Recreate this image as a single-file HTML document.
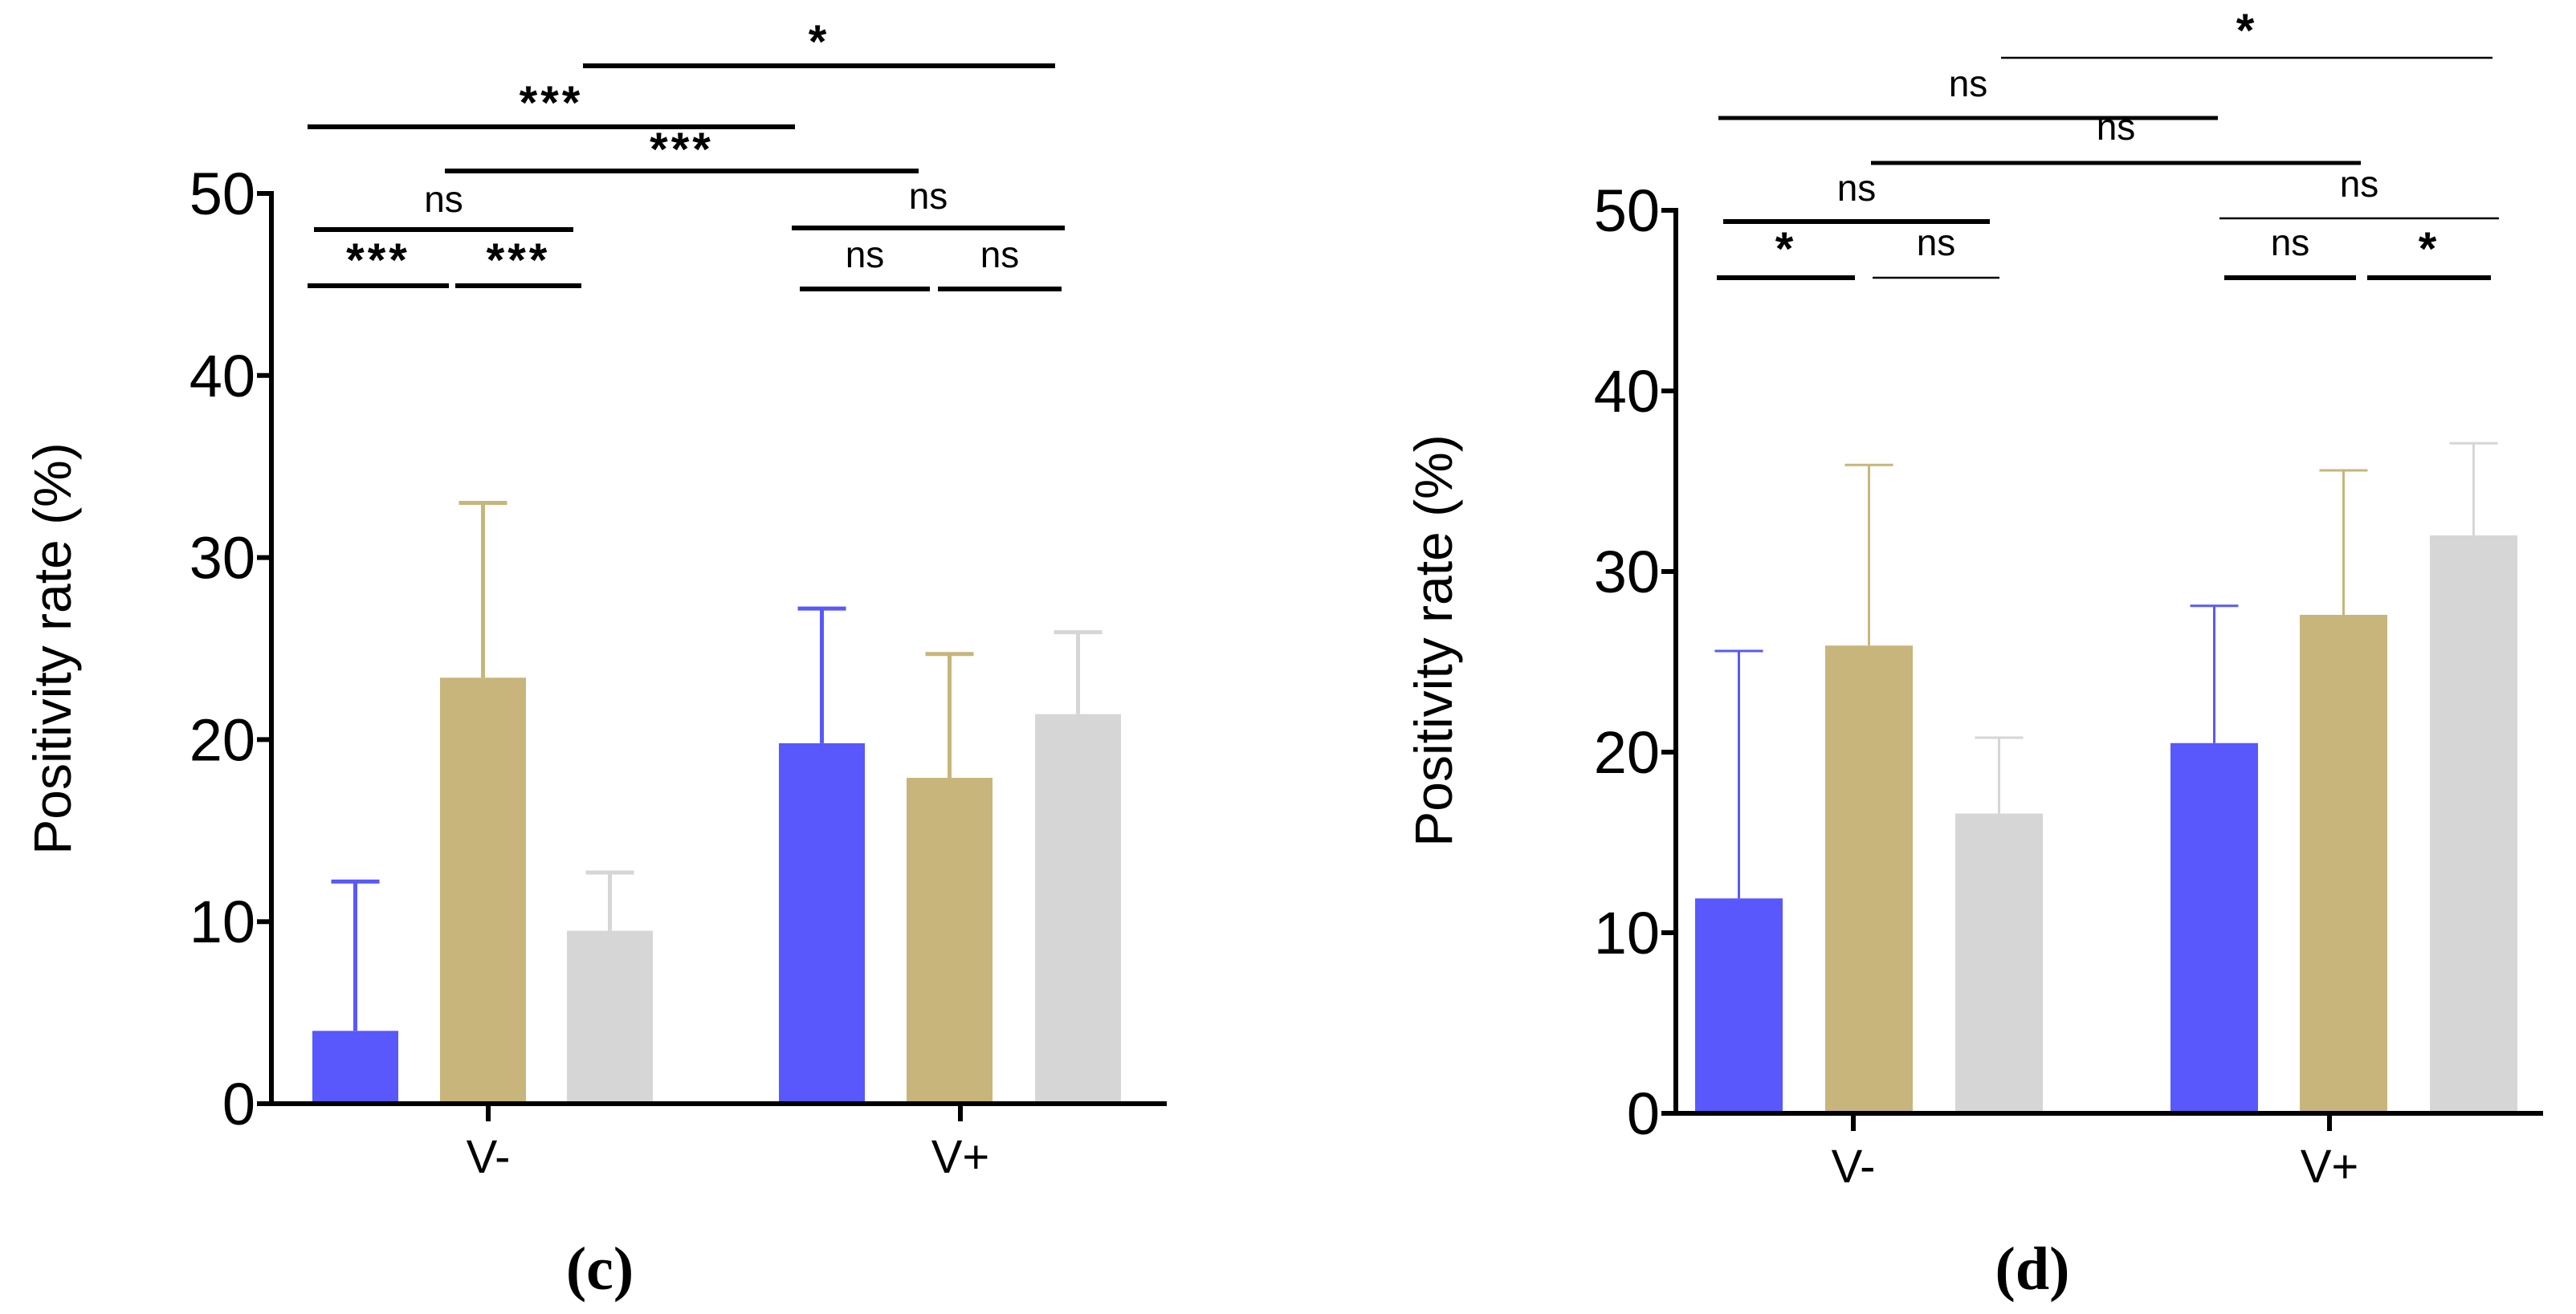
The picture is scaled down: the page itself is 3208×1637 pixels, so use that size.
<!DOCTYPE html>
<html><head><meta charset="utf-8"><style>
html,body{margin:0;padding:0;background:#fff;}
svg{display:block;}
text{font-family:"Liberation Sans",sans-serif;}
</style></head><body>
<svg id="fig" width="3208" height="1637" viewBox="0 0 3208 1637" xmlns="http://www.w3.org/2000/svg"></svg>
<script>
// Panel (c) data
const groupsC = ["V-","V+"];
const meansC = [[4.0,23.4,9.5],[19.8,17.9,21.4]];
const errTopC = [[12.2,33.0,12.7],[27.2,24.7,25.9]];
// Panel (d) data
const groupsD = ["V-","V+"];
const meansD = [[11.9,25.9,16.6],[20.5,27.6,32.0]];
const errTopD = [[25.6,35.9,20.8],[28.1,35.6,37.1]];
const yTicks = [0,10,20,30,40,50];
const colors = ["#5858fd","#c7b57b","#d6d6d6"];

const NS="http://www.w3.org/2000/svg";
const svg=document.getElementById('fig');
function el(tag,attrs,parent){const e=document.createElementNS(NS,tag);for(const k in attrs)e.setAttribute(k,attrs[k]);(parent||svg).appendChild(e);return e;}

function panel(cfg,means,errs,groups,sigs){
  const g=el('g',{});
  
  
  const y=v=>cfg.y0-(cfg.y0-cfg.y50)*v/50;
  means.forEach((grp,gi)=>grp.forEach((v,bi)=>{
    const x0=cfg.barX[gi][bi];
    const r=el('rect',{x:x0,y:y(v),width:cfg.bw,height:cfg.y0-y(v),fill:colors[bi]},g);
    
    
    const cx=x0+cfg.bw/2;
    const e=el('path',{d:`M${cx},${y(v)}V${y(errs[gi][bi])}M${cx-cfg.cap},${y(errs[gi][bi])}H${cx+cfg.cap}`,stroke:colors[bi],'stroke-width':cfg.ew,fill:'none'},g);
    
    
  }));
  const ax=el('path',{d:`M${cfg.ax},${cfg.y50-3}V${cfg.y0}M${cfg.ax-10},${cfg.y0}H${cfg.xEnd}`,stroke:'#000','stroke-width':cfg.aw,fill:'none'},g);
  
  
  yTicks.forEach(t=>{
    el('path',{d:`M${cfg.ax-18},${y(t)}H${cfg.ax}`,stroke:'#000','stroke-width':cfg.aw},g);
    const tx=el('text',{x:cfg.ax-20,y:y(t)+26,'font-size':74,'text-anchor':'end'},g);
    tx.textContent=t;
    
    
  });
  groups.forEach((name,gi)=>{
    const cx=cfg.gx[gi];
    el('path',{d:`M${cx},${cfg.y0}V${cfg.y0+22}`,stroke:'#000','stroke-width':cfg.aw},g);
    const tx=el('text',{x:cx,y:cfg.y0+86,'font-size':58,'text-anchor':'middle'},g);
    tx.textContent=name;
    
    
  });
  const yl=el('text',{x:cfg.ylx,y:cfg.yly,'font-size':66,'text-anchor':'middle',transform:`rotate(-90 ${cfg.ylx} ${cfg.yly})`},g);
  yl.textContent='Positivity rate (%)';
  
  
  sigs.forEach(s=>{
    const l=el('line',{x1:s[0],x2:s[1],y1:s[2],y2:s[2],stroke:'#000','stroke-width':s[5]||6},g);
    
    
    const star=s[3].indexOf('*')>=0;
    const t=el('text',{x:(s[0]+s[1])/2,y:s[4],'font-size':star?58:46,'font-weight':star?'bold':'normal','text-anchor':'middle','letter-spacing':star?4:0},g);
    t.textContent=s[3];
    
    
  });
  const pl=el('text',{x:cfg.plx,y:1606,'font-size':76,'font-weight':'bold','text-anchor':'middle',style:'font-family:"Liberation Serif",serif'},g);
  pl.textContent=cfg.plabel;
  
  
}

panel({name:'panel-c',y0:1375,y50:241,ax:338,xEnd:1453,bw:107,cap:30,ew:5,aw:6,
  barX:[[389,548,706],[970,1129,1289]],gx:[608,1196],ylx:88,yly:808,plx:747,plabel:'(c)'},
  meansC,errTopC,groupsC,[
  [726,1314,82,'*',72],
  [383,990,158,'***',148],
  [554,1144,213,'***',206],
  [391,714,286,'ns',264],
  [986,1326,284,'ns',260],
  [383,559,356,'***',344],
  [567,724,356,'***',344],
  [996,1158,360,'ns',333],
  [1168,1322,360,'ns',333]]);

panel({name:'panel-d',y0:1387,y50:262,ax:2087,xEnd:3167,bw:109,cap:30,ew:3,aw:6,
  barX:[[2111,2273,2435],[2703,2864,3026]],gx:[2308,2901],ylx:1808,yly:798,plx:2531,plabel:'(d)'},
  meansD,errTopD,groupsD,[
  [2492,3104,72,'*',58,2.5],
  [2140,2762,147,'ns',120,5],
  [2330,2940,203,'ns',174,5],
  [2146,2478,276,'ns',250,6],
  [2764,3112,272,'ns',245,2.5],
  [2138,2310,346,'*',330,6],
  [2332,2490,346,'ns',318,2.5],
  [2770,2934,346,'ns',318,6],
  [2948,3102,346,'*',330,6]]);
</script>
</body></html>
